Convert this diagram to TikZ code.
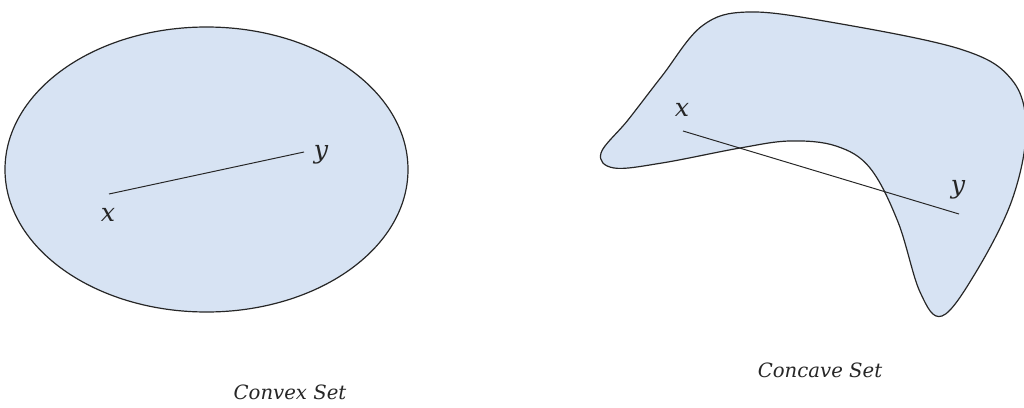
\documentclass[tikz,border=0pt]{standalone}
\usepackage{fontspec}
\setmainfont{DejaVu Serif}
\usepackage{xcolor}
\usepackage{tikz}
\usetikzlibrary{positioning}
\definecolor{cSetF}{HTML}{D7E3F3}
\definecolor{cSetL}{HTML}{262626}
\tikzset{
  setshape/.style={fill=cSetF,draw=cSetL,line width=0.85pt},
  segline/.style={draw=black!85,line width=0.7pt},
  ptlab/.style={font=\itshape\fontsize{18}{20}\selectfont,text=black!85,inner sep=0pt},
  caplab/.style={font=\itshape\fontsize{14}{16}\selectfont,text=black!85,inner sep=0pt},
}
\begin{document}
\begin{tikzpicture}[x=0.025cm,y=-0.025cm]
  \useasboundingbox (0,0) rectangle (1024,407);

  % convex set
  \filldraw[setshape] (206.5,169.5) ellipse [x radius=201.5,y radius=142.5];
  \coordinate (ax) at (109,194);
  \coordinate (ay) at (304,152);
  \draw[segline] (ax) -- (ay);
  \node[ptlab] (axl) at (108,215) {x};
  \node[ptlab] (ayl) at (321,155) {y};
  \node[caplab] (convex) at (290,392) {Convex Set};

  % concave set
  \begin{scope}
    \clip (0,0) rectangle (1024,407);
    \filldraw[setshape] plot[smooth cycle,tension=0.6] coordinates {
      (601,153) (628,120) (662,76) (702,26) (748,12) (830,22) (960,49)
      (1012,80) (1026,130) (1012,200) (976,272) (942,316) (920,292)
      (898,222) (870,168) (836,146) (790,141) (740,148) (662,163) (614,168)};
  \end{scope}
  \coordinate (bx) at (683,131);
  \coordinate (by) at (959,214);
  \draw[segline] (bx) -- (by);
  \node[ptlab] (bxl) at (682,110) {x};
  \node[ptlab] (byl) at (958,190) {y};
  \node[caplab] (concave) at (820,370) {Concave Set};
\end{tikzpicture}
\end{document}
